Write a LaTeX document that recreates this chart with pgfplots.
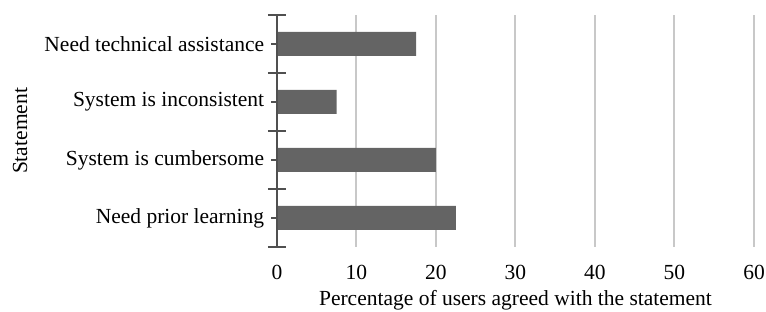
\documentclass[border=0pt]{standalone}
\usepackage{fontspec}
\setmainfont{Liberation Serif}
\usepackage{pgfplots}
\pgfplotsset{compat=1.18}
\definecolor{barc}{HTML}{646464}
\definecolor{gridc}{HTML}{C8C8C8}
\definecolor{axc}{HTML}{505050}
\begin{document}
\fontsize{21.5}{25}\selectfont
\begin{tikzpicture}
\begin{axis}[
  name=ax,
  scale only axis,
  width=477pt, height=232pt,
  xmin=0, xmax=60,
  ymin=-0.5, ymax=3.5,
  xbar, bar width=24pt,
  axis line style={draw=none},
  xtick={0,10,...,60},
  ytick={0,1,2,3},
  ytick pos=left,
  xtick pos=bottom,
  yticklabels={Need prior learning, System is cumbersome, System is inconsistent, Need technical assistance},
  xmajorgrids=true,
  grid style={gridc, line width=2pt},
  major tick length=11pt,
  tick align=center,
  xtick style={draw=none},
  ytick style={axc, line width=2pt},
  extra y ticks={-0.5,0.5,1.5,2.5,3.5},
  extra y tick labels={},
  extra y tick style={major tick length=18pt, tick align=center, ytick pos=left},
  xticklabel style={anchor=center, yshift=-20pt},
  xlabel={Percentage of users agreed with the statement},
  ylabel={Statement},
  xlabel style={at={(rel axis cs:0.5,0)}, anchor=center, yshift=-53pt},
  ylabel style={at={(rel axis cs:0,0.5)}, anchor=center, rotate=0, yshift=257pt},
  /pgf/number format/assume math mode=true,
  tick label style={font=\fontsize{21.5}{25}\selectfont},
  label style={font=\fontsize{21.5}{25}\selectfont},
  clip=false,
]
\addplot[fill=barc, draw=none] coordinates {(22.5,0) (20,1) (7.5,2) (17.5,3)};
\draw[axc, line width=2pt] (axis cs:0,-0.5) -- (axis cs:0,3.5);
\end{axis}
\pgfresetboundingbox
\path[use as bounding box] ([xshift=-277pt,yshift=-65pt]ax.south west) rectangle ([xshift=12pt,yshift=15pt]ax.north east);
\end{tikzpicture}
\end{document}
